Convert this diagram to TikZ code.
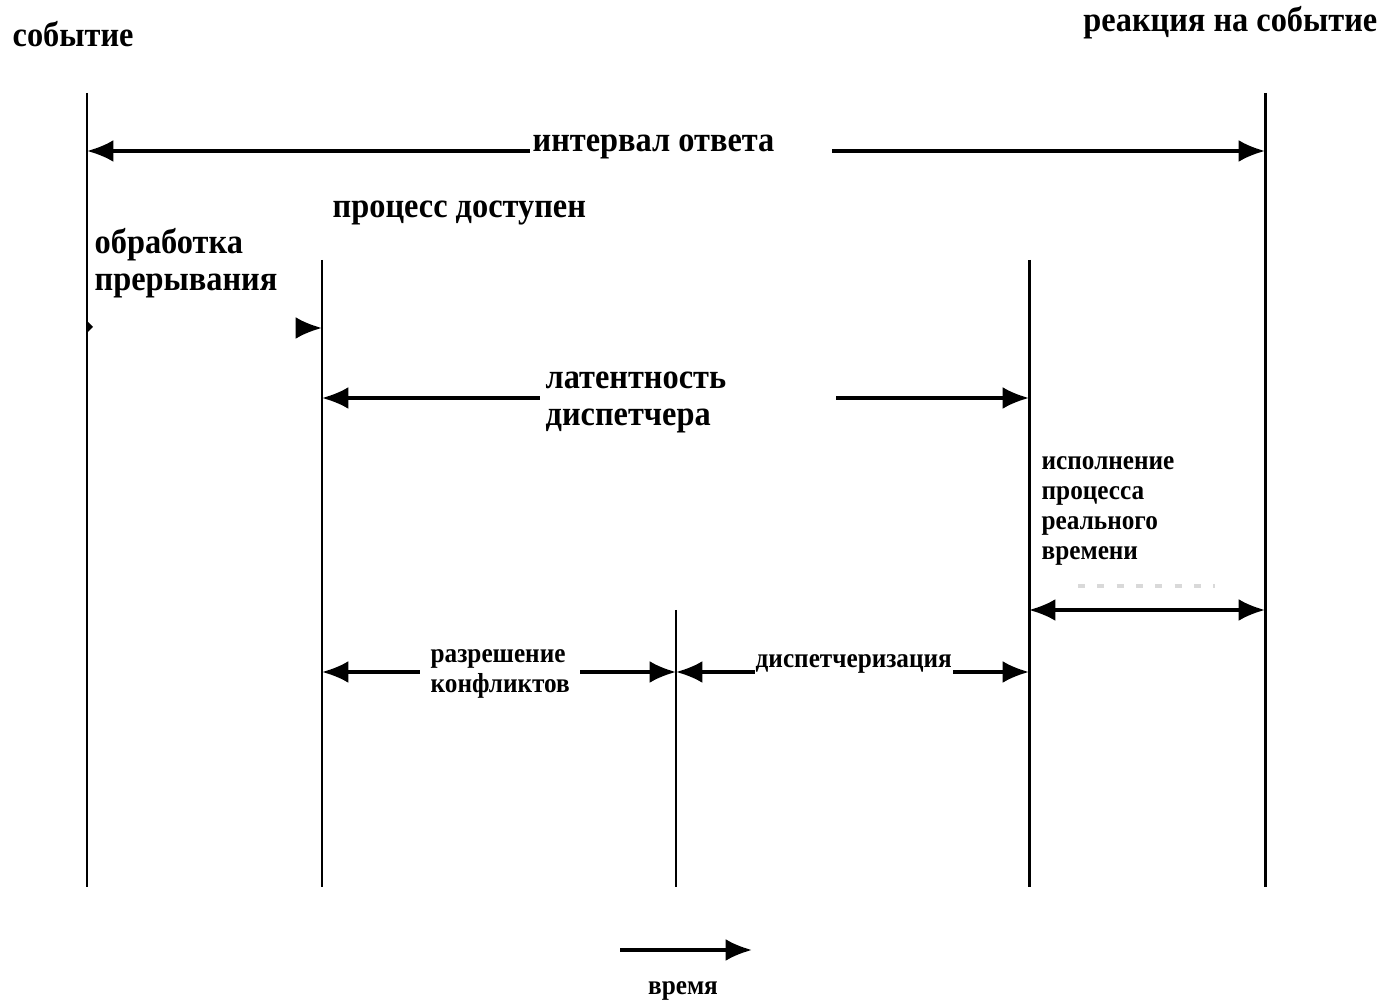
\documentclass[tikz,border=0pt]{standalone}
\usepackage{fontspec}
\setmainfont{Liberation Serif}[FakeStretch=0.92]
\usetikzlibrary{arrows.meta}
\begin{document}
\begin{tikzpicture}[x=0.01cm,y=-0.01cm,
  vline/.style={line width=0.85pt},
  dim/.style={line width=0.9pt},
  tipl/.style={{Latex[length=7.5pt,width=6.2pt]}-},
  tipr/.style={-{Latex[length=7.5pt,width=6.2pt]}},
  tipb/.style={{Latex[length=7.5pt,width=6.2pt]}-{Latex[length=7.5pt,width=6.2pt]}},
  big/.style={font=\bfseries\fontsize{10}{10.5}\selectfont, inner sep=0pt, align=left},
  small/.style={font=\bfseries\fontsize{7.8}{8.5}\selectfont, inner sep=0pt, align=left}]
\useasboundingbox (0,0) rectangle (1384,1001);

% time lines
\coordinate (A1) at (87,93);   \coordinate (A2) at (87,887);
\coordinate (B1) at (322,260); \coordinate (B2) at (322,887);
\coordinate (C1) at (676,610); \coordinate (C2) at (676,887);
\coordinate (D1) at (1029,260);\coordinate (D2) at (1029,887);
\coordinate (E1) at (1265,93); \coordinate (E2) at (1265,887);
\foreach \p in {A,B,C,D,E} \draw[vline] (\p1) -- (\p2);

% headings
\node[big, anchor=base west] (ev) at (12,47) {событие};
\node[big, anchor=base east] (re) at (1378,32) {реакция на событие};

% response interval
\node[big, anchor=base west] (ri) at (532,152) {интервал ответа};
\coordinate (riL) at (87,151);  \coordinate (riR) at (1265,151);
\coordinate (riA) at (530,151); \coordinate (riB) at (832,151);
\draw[dim,tipl] (riL) -- (riA);
\draw[dim,tipr] (riB) -- (riR);

% interrupt handling / process ready
\node[big, anchor=base west] (pd) at (332,218) {процесс доступен};
\node[big, anchor=north west] (ih) at (94,228) {обработка\\прерывания};
\coordinate (ihA) at (306,328); \coordinate (ihB) at (322,328);
\draw[dim,tipr] (ihA) -- (ihB);
\fill (87,321) -- (93,327) -- (87,333) -- cycle;

% dispatch latency
\node[big, anchor=north west] (dl) at (545,371) {латентность\\диспетчера};
\coordinate (dlL) at (322,398);  \coordinate (dlA) at (540,398);
\coordinate (dlB) at (836,398);  \coordinate (dlR) at (1029,398);
\draw[dim,tipl] (dlL) -- (dlA);
\draw[dim,tipr] (dlB) -- (dlR);

% real-time process execution
\node[small, anchor=north west] (rt) at (1041,456) {исполнение\\процесса\\реального\\времени};
\draw[gray!30, line width=1pt, dash pattern=on 2pt off 3.5pt] (1078,586) -- (1215,586);
\coordinate (rtL) at (1029,610); \coordinate (rtR) at (1265,610);
\draw[dim,tipb] (rtL) -- (rtR);

% conflict resolution
\node[small, anchor=north west] (cr) at (430,649) {разрешение\\конфликтов};
\coordinate (crL) at (322,672); \coordinate (crA) at (420,672);
\coordinate (crB) at (580,672); \coordinate (crR) at (676,672);
\draw[dim,tipl] (crL) -- (crA);
\draw[dim,tipr] (crB) -- (crR);

% dispatching
\node[small, anchor=base west] (dp) at (755,668) {диспетчеризация};
\coordinate (dpL) at (676,672); \coordinate (dpA) at (755,672);
\coordinate (dpB) at (953,672); \coordinate (dpR) at (1029,672);
\draw[dim,tipl] (dpL) -- (dpA);
\draw[dim,tipr] (dpB) -- (dpR);

% time axis
\coordinate (tA) at (620,950); \coordinate (tB) at (752,950);
\draw[dim,tipr] (tA) -- (tB);
\node[small, anchor=base] (tm) at (683,995) {время};
\end{tikzpicture}
\end{document}
